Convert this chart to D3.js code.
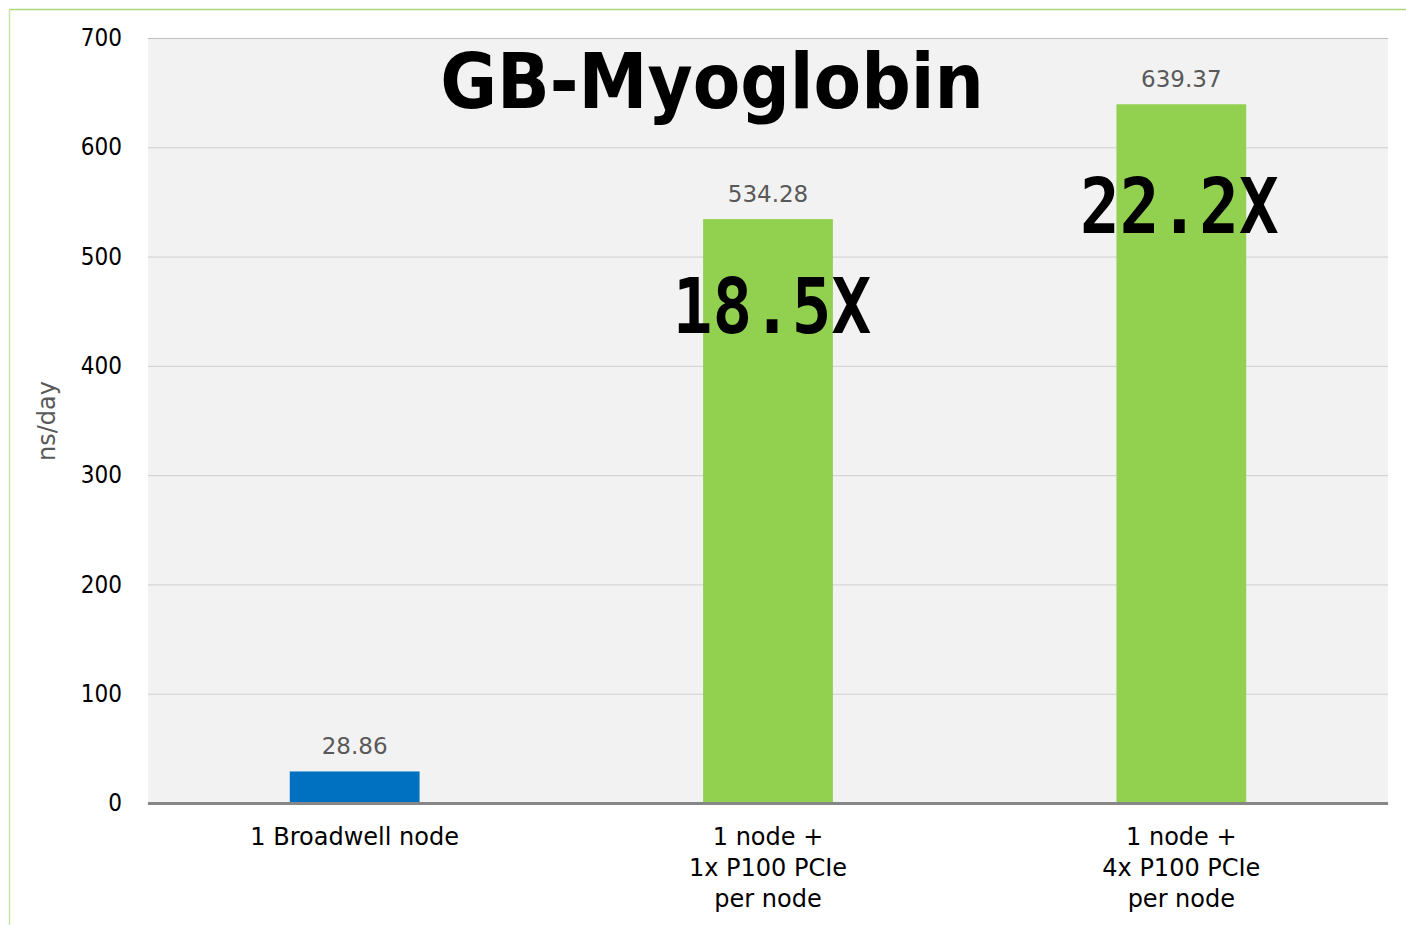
<!DOCTYPE html>
<html><head><meta charset="utf-8">
<script src="https://cdn.jsdelivr.net/npm/d3@7/dist/d3.min.js"></script>
<style>body{margin:0;background:#fff;}svg{display:block;}</style>
</head><body>
<svg id="c" width="1406" height="925"></svg>
<script>
const categories = [["1 Broadwell node"], ["1 node +", "1x P100 PCIe", "per node"], ["1 node +", "4x P100 PCIe", "per node"]];
const values = [28.86, 534.28, 639.37];
const valueLabels = ["28.86", "534.28", "639.37"];
const speedups = ["", "18.5X", "22.2X"];
const yTicks = [0, 100, 200, 300, 400, 500, 600, 700];
const title = "GB-Myoglobin";
const yTitle = "ns/day";
const colors = ["#0070c0", "#92d050", "#92d050"];

const svg = d3.select("#c");
const fontC = "'DejaVu Sans Condensed','DejaVu Sans',sans-serif";
const fontN = "'DejaVu Sans',sans-serif";
const m = {l:148, r:1388, t:38, b:803};

// frame
svg.append("line").attr("x1",9).attr("x2",1406).attr("y1",9.5).attr("y2",9.5).attr("stroke","#a9d77a").attr("stroke-width",1.5);
svg.append("line").attr("x1",9.5).attr("x2",9.5).attr("y1",9).attr("y2",925).attr("stroke","#c6e5a4").attr("stroke-width",1.5);

const x = d3.scaleBand().domain(d3.range(values.length)).range([m.l, m.r]).paddingInner(0.686).paddingOuter(0.343);
const y = d3.scaleLinear().domain([0,700]).range([m.b, m.t]);

svg.append("rect").attr("x",m.l).attr("y",m.t).attr("width",m.r-m.l).attr("height",m.b-m.t).attr("fill","#f2f2f2");

const gy = svg.append("g").attr("transform",`translate(${m.l},0)`)
  .call(d3.axisLeft(y).tickValues(yTicks).tickSize(-(m.r-m.l)).tickPadding(26));
gy.select(".domain").remove();
gy.selectAll(".tick line").attr("stroke","#cfcfcf").attr("stroke-width",1);
gy.selectAll(".tick text").attr("font-family",fontC).attr("font-size",24).attr("fill","#000");
gy.selectAll(".tick").filter(d=>d===700).select("line").attr("stroke","#bfbfbf");

svg.selectAll("rect.bar").data(values).join("rect").attr("class","bar")
  .attr("x",(d,i)=>x(i)).attr("width",x.bandwidth())
  .attr("y",d=>y(d)).attr("height",d=>y(0)-y(d)).attr("fill",(d,i)=>colors[i]);

// baseline axis
svg.append("line").attr("x1",m.l).attr("x2",m.r).attr("y1",y(0)+0.5).attr("y2",y(0)+0.5).attr("stroke","#878787").attr("stroke-width",3);

svg.selectAll("text.val").data(values).join("text").attr("class","val")
  .attr("x",(d,i)=>x(i)+x.bandwidth()/2).attr("y",d=>y(d)-17)
  .attr("text-anchor","middle").attr("font-family",fontN).attr("font-size",23).attr("fill","#595959")
  .text((d,i)=>valueLabels[i]);

// category labels
categories.forEach((lines,i)=>{
  const t = svg.append("text").attr("text-anchor","middle").attr("font-family",fontN).attr("font-size",24).attr("fill","#000");
  lines.forEach((ln,j)=>{
    t.append("tspan").attr("x",x(i)+x.bandwidth()/2).attr("y",845+j*31).text(ln);
  });
});

// speedups (style offsets relative to bar top)
const spDx = [0, 4, -2], spDy = [0, 114, 129];
svg.selectAll("text.sp").data(values).join("text").attr("class","sp")
  .attr("transform",(d,i)=>`translate(${x(i)+x.bandwidth()/2+spDx[i]},${y(d)+spDy[i]}) scale(1,1.15)`)
  .attr("text-anchor","middle").attr("font-family","'DejaVu Sans Mono',monospace").attr("font-weight","bold")
  .attr("font-size",66).attr("fill","#000").text((d,i)=>speedups[i]);

svg.append("text").attr("x",712).attr("y",108).attr("text-anchor","middle")
  .attr("font-family",fontC).attr("font-weight","bold").attr("font-size",77).attr("fill","#000").text(title);

svg.append("text").attr("transform","translate(55,421) rotate(-90)").attr("text-anchor","middle")
  .attr("font-family",fontN).attr("font-size",24).attr("fill","#595959").text(yTitle);
</script>
</body></html>
